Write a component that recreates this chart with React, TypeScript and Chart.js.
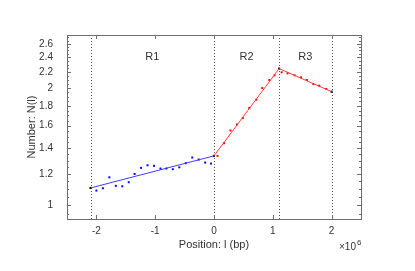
import React, { useEffect, useRef } from 'react';
import { Chart, registerables } from 'chart.js';

Chart.register(...registerables);

// Positions in units of 10^6 bp
const r1X = [-2.0, -1.89, -1.78, -1.67, -1.56, -1.45, -1.35, -1.24, -1.13, -1.02, -0.91, -0.81, -0.7, -0.59, -0.48, -0.37, -0.26, -0.15, -0.05];
const r1Y = [1.089, 1.104, 1.178, 1.12, 1.117, 1.144, 1.202, 1.246, 1.265, 1.261, 1.241, 1.241, 1.236, 1.25, 1.281, 1.325, 1.309, 1.286, 1.278];
const r2X = [0.06, 0.17, 0.28, 0.39, 0.49, 0.6, 0.72, 0.82, 0.94, 1.03];
const r2Y = [1.338, 1.442, 1.555, 1.612, 1.674, 1.777, 1.867, 2.0, 2.098, 2.157];
const r3X = [1.15, 1.25, 1.37, 1.48, 1.58, 1.69, 1.79, 1.91];
const r3Y = [2.196, 2.183, 2.157, 2.131, 2.098, 2.048, 2.029, 1.99];
const breakX = [-2.1, 0, 1.107, 2.0];
const breakY = [1.106, 1.338, 2.245, 1.958];
const regionLabels = ['R1', 'R2', 'R3'];
const xTicks = [-2, -1, 0, 1, 2];
const yMajorTicks = [1, 1.2, 1.4, 1.6, 1.8, 2, 2.2, 2.4, 2.6];
const yMinorStep = 0.05;

const FONT = '"Liberation Sans", Arial, Helvetica, sans-serif';
const TEXT = '#333333';
const AXIS = '#6e6e6e';

const pts = (xs: number[], ys: number[]) => xs.map((x, i) => ({ x, y: ys[i] }));

const decorPlugin = {
  id: 'decor',
  beforeDatasetsDraw(chart: any) {
    const { ctx, chartArea: a, scales } = chart;
    const xs = scales.x;
    ctx.save();
    ctx.strokeStyle = '#555555';
    ctx.lineWidth = 1;
    ctx.setLineDash([1, 2]);
    breakX.forEach((bx) => {
      const px = Math.round(xs.getPixelForValue(bx)) + 0.5;
      ctx.beginPath();
      ctx.moveTo(px, a.top);
      ctx.lineTo(px, a.bottom);
      ctx.stroke();
    });
    ctx.restore();
  },
  afterDatasetsDraw(chart: any) {
    const { ctx, chartArea: a, scales } = chart;
    const xs = scales.x;
    const ys = scales.y;
    ctx.save();
    ctx.strokeStyle = AXIS;
    ctx.lineWidth = 1;
    ctx.strokeRect(Math.round(a.left) + 0.5, Math.round(a.top) + 0.5, Math.round(a.right - a.left), Math.round(a.bottom - a.top));
    ctx.beginPath();
    // x ticks (inward, bottom and top)
    xTicks.forEach((t) => {
      const px = Math.round(xs.getPixelForValue(t)) + 0.5;
      ctx.moveTo(px, a.bottom);
      ctx.lineTo(px, a.bottom - 4);
      ctx.moveTo(px, a.top);
      ctx.lineTo(px, a.top + 4);
    });
    // y ticks (inward, left and right)
    for (let v = 0.95; v <= 2.7001; v += yMinorStep) {
      const vv = Math.round(v * 100) / 100;
      const major = yMajorTicks.some((m) => Math.abs(m - vv) < 1e-6);
      const len = major ? 4 : 2;
      const py = Math.round(ys.getPixelForValue(vv)) + 0.5;
      ctx.moveTo(a.left, py);
      ctx.lineTo(a.left + len, py);
      ctx.moveTo(a.right, py);
      ctx.lineTo(a.right - len, py);
    }
    ctx.stroke();

    // region labels
    ctx.fillStyle = TEXT;
    ctx.font = `11px ${FONT}`;
    ctx.textAlign = 'center';
    ctx.textBaseline = 'middle';
    regionLabels.forEach((lab, i) => {
      const cx = xs.getPixelForValue((breakX[i] + breakX[i + 1]) / 2);
      ctx.fillText(lab, cx, ys.getPixelForValue(2.4));
    });

    // exponent label
    ctx.textAlign = 'left';
    ctx.textBaseline = 'alphabetic';
    ctx.font = `10px ${FONT}`;
    const ex = a.right - 22;
    ctx.fillText('\u00d710', ex, 250);
    const w = ctx.measureText('\u00d710').width;
    ctx.font = `8px ${FONT}`;
    ctx.fillText('6', ex + w + 1, 245);
    ctx.restore();
  },
};

export default function App() {
  const ref = useRef<HTMLCanvasElement | null>(null);
  useEffect(() => {
    if (!ref.current) return;
    const chart = new Chart(ref.current, {
      type: 'scatter',
      data: {
        datasets: [
          {
            data: pts(breakX.slice(0, 2), breakY.slice(0, 2)),
            showLine: true,
            borderColor: '#3c3cff',
            borderWidth: 1,
            pointRadius: 0,
          },
          {
            data: pts(breakX.slice(1), breakY.slice(1)),
            showLine: true,
            borderColor: '#ff3c3c',
            borderWidth: 1,
            pointRadius: 0,
          },
          {
            data: pts(r1X, r1Y),
            pointStyle: 'rect',
            pointRadius: 1.4,
            backgroundColor: '#0000ff',
            borderWidth: 0,
          },
          {
            data: pts([...r2X, ...r3X], [...r2Y, ...r3Y]),
            pointStyle: 'rect',
            pointRadius: 1.4,
            backgroundColor: '#ff0000',
            borderWidth: 0,
          },
          {
            data: pts(breakX, breakY),
            pointStyle: 'rect',
            pointRadius: 1.5,
            backgroundColor: '#000000',
            borderWidth: 0,
          },
        ],
      },
      options: {
        responsive: false,
        animation: false,
        layout: { padding: { top: 35, right: 54, left: 0, bottom: 0 } },
        plugins: { legend: { display: false }, tooltip: { enabled: false } },
        scales: {
          x: {
            type: 'linear',
            min: -2.5,
            max: 2.5,
            grid: { display: false },
            border: { display: false },
            afterBuildTicks: (s: any) => {
              s.ticks = xTicks.map((v) => ({ value: v }));
            },
            afterFit: (s: any) => {
              s.height = 52;
            },
            ticks: {
              padding: -2,
              color: TEXT,
              font: { family: FONT, size: 10 },
              maxRotation: 0,
              callback: (v: any) => String(v),
            },
            title: {
              display: true,
              text: 'Position: l (bp)',
              color: TEXT,
              font: { family: FONT, size: 11 },
              padding: { top: 0, bottom: 19 },
            },
          },
          y: {
            type: 'logarithmic',
            min: 0.92,
            max: 2.74,
            grid: { display: false },
            border: { display: false },
            afterBuildTicks: (s: any) => {
              s.ticks = yMajorTicks.map((v) => ({ value: v }));
            },
            afterFit: (s: any) => {
              s.width = 67;
            },
            ticks: {
              padding: 6,
              color: TEXT,
              font: { family: FONT, size: 10 },
              callback: (v: any) => String(Number(Number(v).toFixed(1))),
            },
            title: {
              display: true,
              text: 'Number: N(l)',
              color: TEXT,
              font: { family: FONT, size: 11 },
              padding: { top: 25, bottom: 0 },
            },
          },
        },
      },
      plugins: [decorPlugin],
    });
    return () => chart.destroy();
  }, []);
  return (
    <div style={{ position: 'absolute', left: 0, top: 0, width: 415, height: 271, background: '#fff' }}>
      <canvas ref={ref} width={415} height={271} />
    </div>
  );
}
